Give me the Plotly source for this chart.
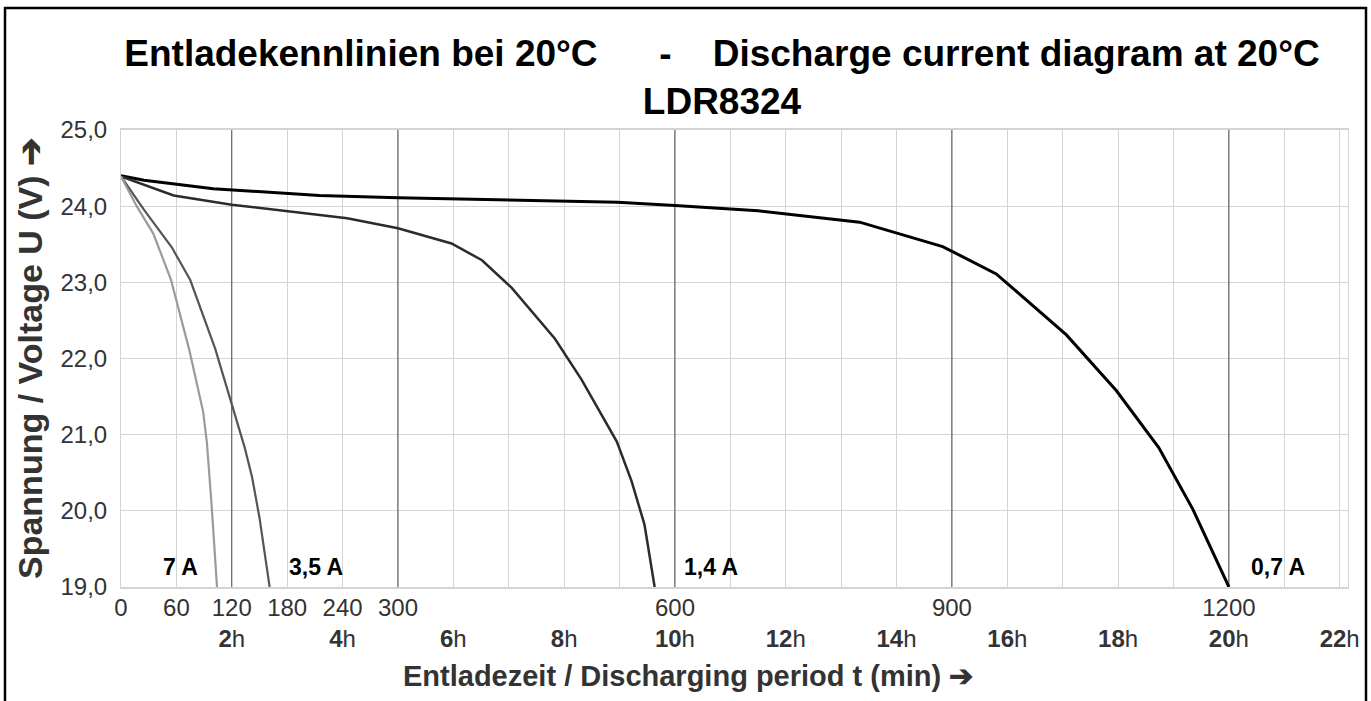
import plotly.graph_objects as go

# ---------------- data ----------------
series_names = ["0,7 A", "1,4 A", "3,5 A", "7 A"]

t_07 = [0, 25, 100, 215, 300, 538, 600, 690, 800, 890, 948, 1024, 1078, 1124, 1161, 1200]
u_07 = [24.40, 24.34, 24.23, 24.14, 24.11, 24.05, 24.01, 23.94, 23.79, 23.47, 23.11, 22.31, 21.58, 20.83, 20.02, 19.00]

t_14 = [0, 57, 120, 183, 245, 300, 358, 391, 423, 470, 499, 537, 553, 567, 578]
u_14 = [24.39, 24.14, 24.02, 23.93, 23.84, 23.71, 23.51, 23.29, 22.93, 22.26, 21.72, 20.91, 20.39, 19.82, 19.00]

t_35 = [0, 25, 55, 75, 102, 120, 134, 142, 150, 161]
u_35 = [24.39, 23.95, 23.46, 23.03, 22.13, 21.40, 20.83, 20.44, 19.91, 19.00]

t_70 = [0, 17, 35, 54, 74, 89, 93, 98, 104]
u_70 = [24.39, 24.00, 23.64, 23.04, 22.11, 21.30, 20.90, 20.10, 19.00]

y_tick_vals = [19, 20, 21, 22, 23, 24, 25]
y_tick_text = ["19,0", "20,0", "21,0", "22,0", "23,0", "24,0", "25,0"]
minute_tick_vals = [0, 60, 120, 180, 240, 300, 600, 900, 1200]
hour_tick_vals = [2, 4, 6, 8, 10, 12, 14, 16, 18, 20, 22]
emphasis_minutes = [120, 300, 600, 900, 1200]

# ---------------- styling / layout ----------------
W, H = 1371, 701
ML, MR, MT, MB = 121, 23, 130, 114
PW, PH = W - ML - MR, H - MT - MB
X_MAX = 1329

def px_x(px):
    return (px - ML) / PW

def px_y(py):
    return (H - MB - py) / PH

FONT = "Liberation Sans, Arial, sans-serif"

styles = {
    "0,7 A": dict(color="#000000", width=3),
    "1,4 A": dict(color="#2b2b2b", width=2.5),
    "3,5 A": dict(color="#555555", width=2.2),
    "7 A": dict(color="#9a9a9a", width=2.2),
}
series = {"0,7 A": (t_07, u_07), "1,4 A": (t_14, u_14), "3,5 A": (t_35, u_35), "7 A": (t_70, u_70)}

fig = go.Figure()
for name in series_names:
    t, u = series[name]
    fig.add_trace(go.Scatter(x=t, y=u, mode="lines", name=name, line=styles[name],
                             showlegend=False, hoverinfo="skip"))

# combined two-row x tick labels: minutes on the first row, hours on the second
minute_set = set(minute_tick_vals)
hour_minutes = {h * 60: h for h in hour_tick_vals}
all_pos = sorted(minute_set | set(hour_minutes))
x_tick_text = []
for p in all_pos:
    top = str(p) if p in minute_set else "\u00a0"
    bot = f"<b>{hour_minutes[p]}</b>h" if p in hour_minutes else "\u00a0"
    x_tick_text.append(f"{top}<br>{bot}")

grid_col = "#d4d4d4"
fig.update_xaxes(range=[0, X_MAX], tickmode="array", tickvals=all_pos, ticktext=x_tick_text,
                 showgrid=True, gridcolor=grid_col, gridwidth=1,
                 minor=dict(dtick=60, tick0=0, showgrid=True, gridcolor=grid_col, gridwidth=1),
                 showline=True, linecolor=grid_col, linewidth=2, mirror=True,
                 ticks="", zeroline=False,
                 tickfont=dict(family=FONT, size=24, color="#333333"), ticklabelstandoff=-2)
fig.update_yaxes(range=[19, 25], tickmode="array", tickvals=y_tick_vals, ticktext=y_tick_text,
                 showgrid=True, gridcolor=grid_col, gridwidth=1,
                 showline=True, linecolor=grid_col, linewidth=1, mirror=True,
                 ticks="", zeroline=False,
                 tickfont=dict(family=FONT, size=24, color="#333333"), ticklabelstandoff=8,
                 title=dict(text="<b>Spannung / Voltage U (V) \u2794</b>", standoff=7,
                            font=dict(family=FONT, size=34, color="#333333")))

for xm in emphasis_minutes:
    fig.add_shape(type="line", xref="x", yref="y", x0=xm, x1=xm, y0=19, y1=25,
                  line=dict(color="#4a4a4a", width=1), layer="between")

# curve labels
label_pos = {"7 A": 64, "3,5 A": 211, "1,4 A": 639, "0,7 A": 1253}
for name in series_names:
    fig.add_annotation(x=label_pos[name], y=19.26, xref="x", yref="y", text=f"<b>{name}</b>",
                       showarrow=False, font=dict(family=FONT, size=23, color="#000000"))

# x axis title (centred on the figure as in the reference)
fig.add_annotation(x=px_x(688), y=px_y(676), xref="paper", yref="paper", xanchor="center",
                   yanchor="middle", showarrow=False,
                   text="<b>Entladezeit / Discharging period t (min) \u2794</b>",
                   font=dict(family=FONT, size=29, color="#333333"))

# outer frame
fig.add_shape(type="rect", xref="paper", yref="paper", x0=px_x(5), x1=px_x(1366),
              y0=px_y(730), y1=px_y(8), line=dict(color="#000000", width=2.5),
              fillcolor="rgba(0,0,0,0)", layer="above")

fig.update_layout(
    width=W, height=H, margin=dict(l=ML, r=MR, t=MT, b=MB, autoexpand=False),
    paper_bgcolor="white", plot_bgcolor="white",
    title=dict(text="<b>Entladekennlinien bei 20°C\u00a0\u00a0\u00a0\u00a0\u00a0\u00a0-\u00a0\u00a0\u00a0\u00a0Discharge current diagram at 20°C<br>LDR8324</b>",
               x=722 / W, xanchor="center", xref="container",
               y=1 - 66 / H, yanchor="middle", yref="container",
               font=dict(family=FONT, size=37, color="#000000")),
    showlegend=False,
)

fig.write_html("out.html", config={"displayModeBar": False},
               post_script="document.body.style.margin='0';document.body.style.overflow='hidden';")
